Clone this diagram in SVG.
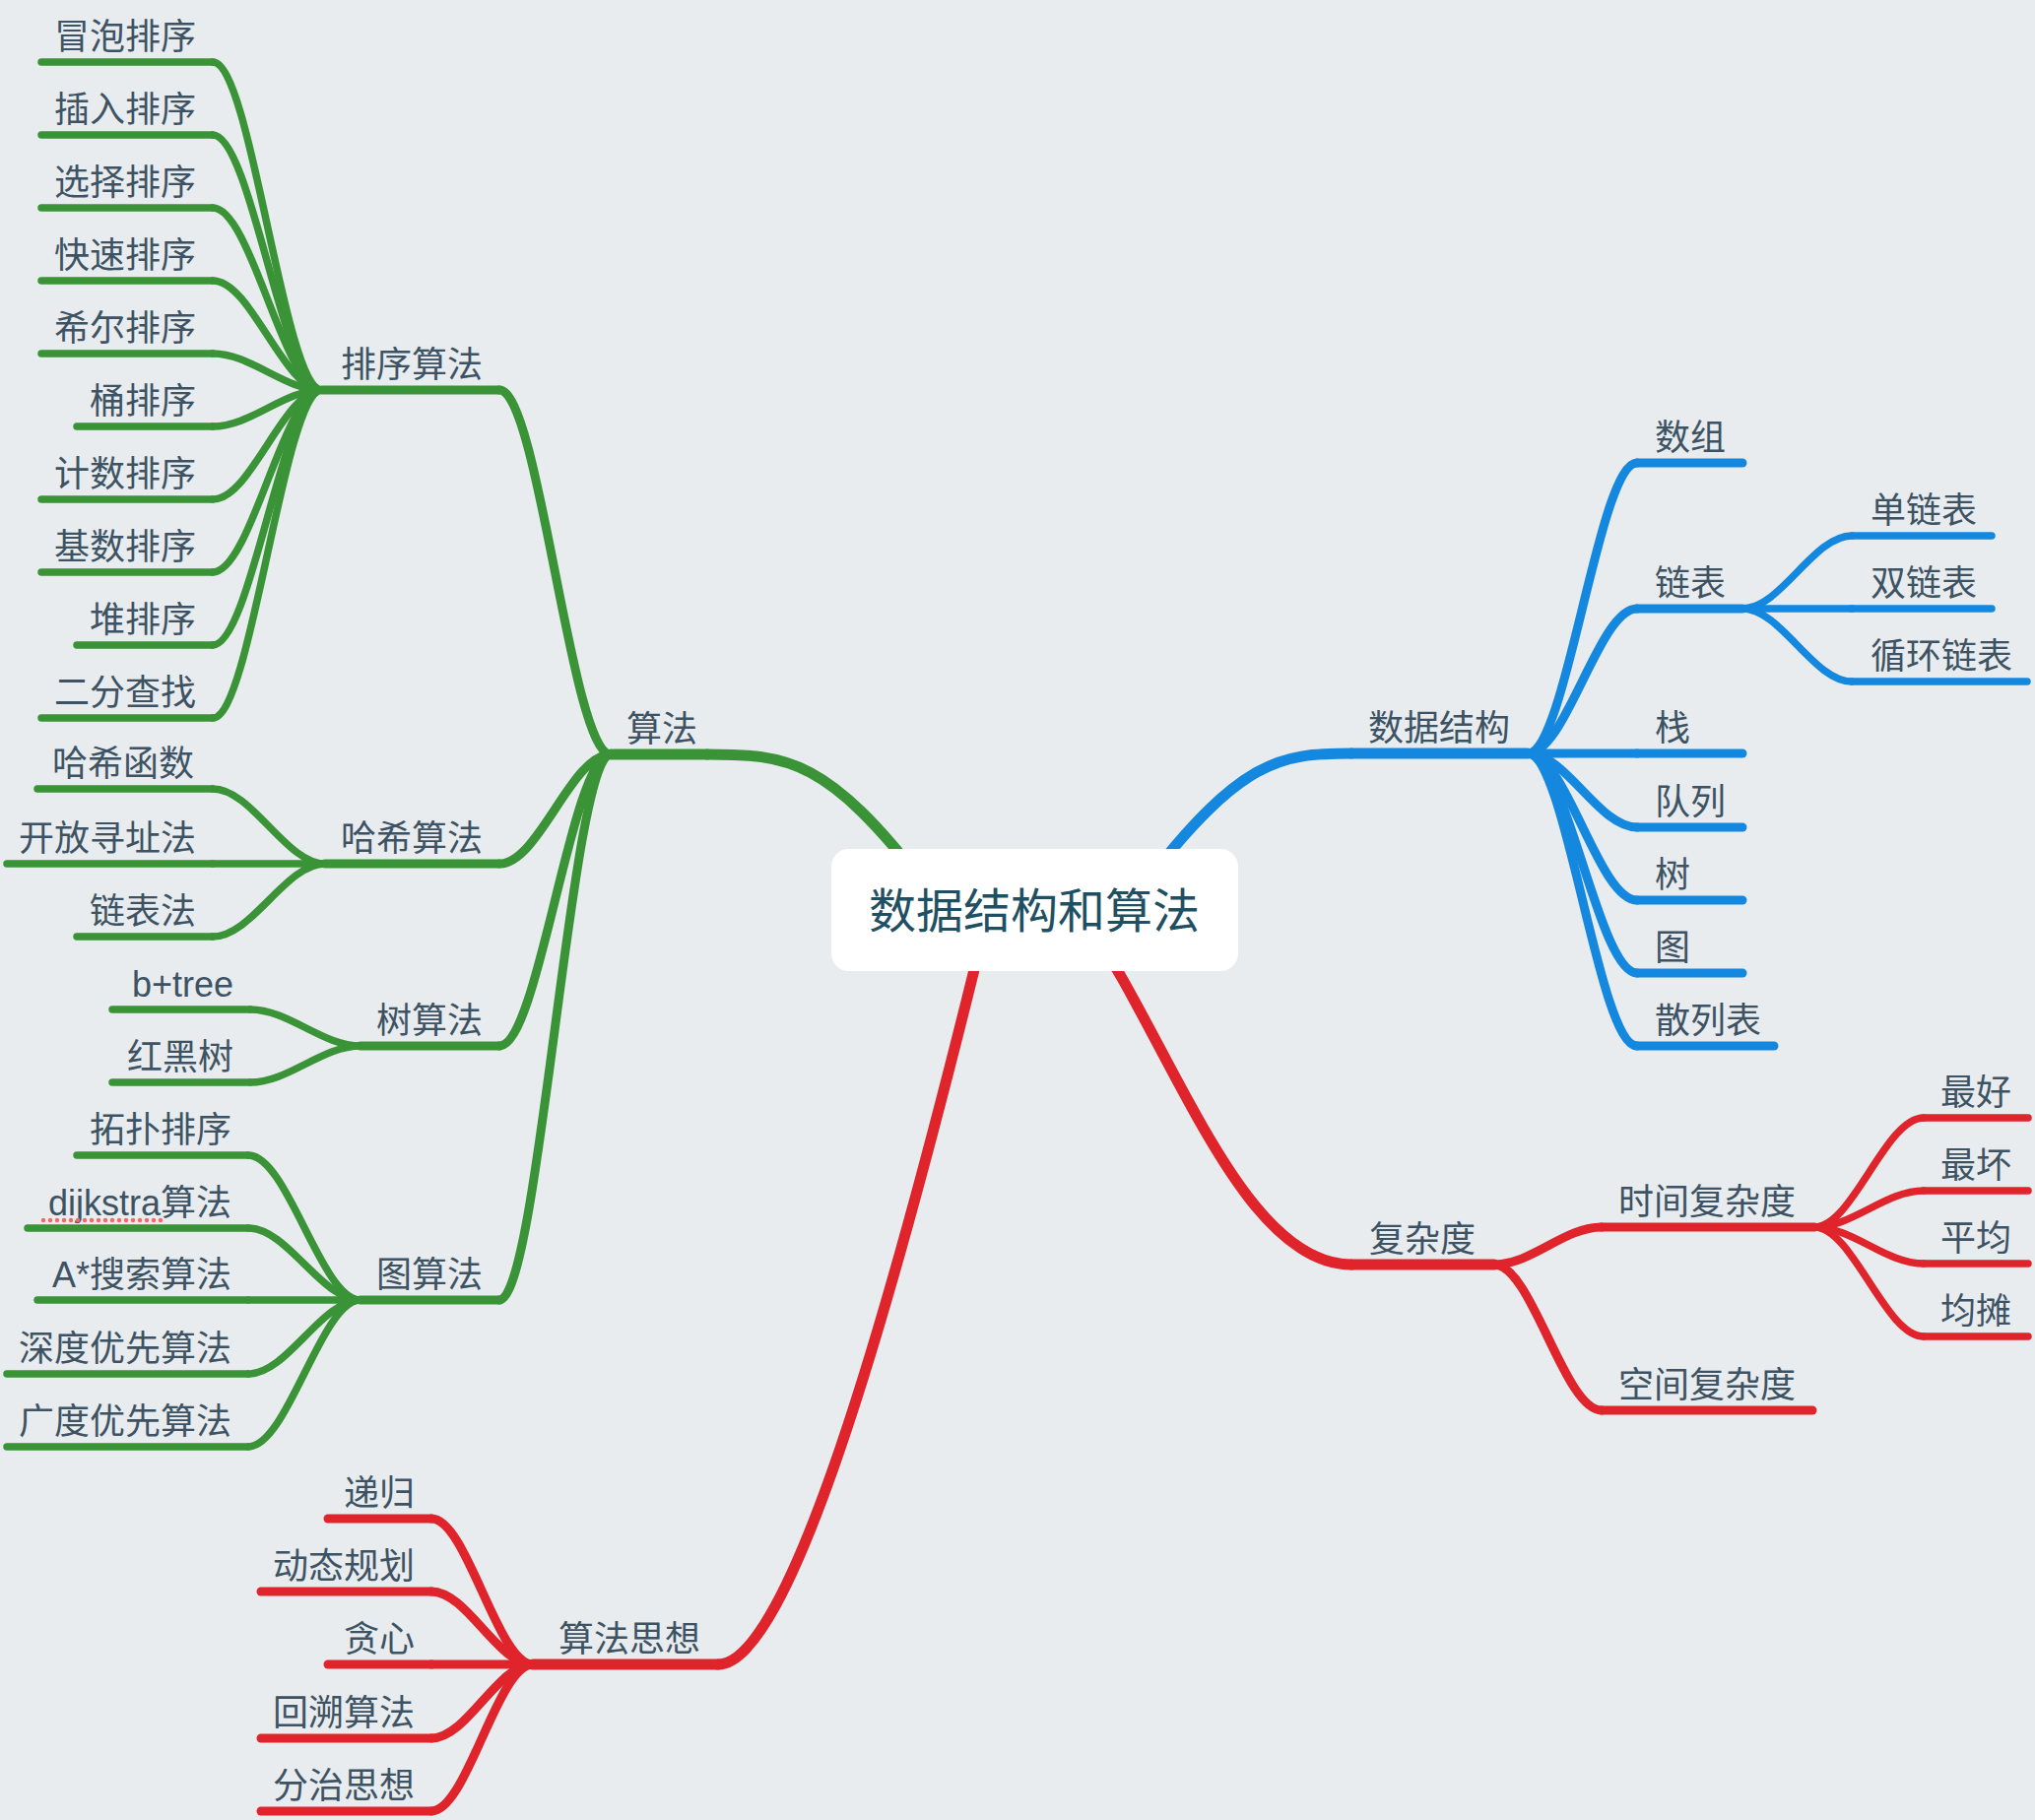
<svg xmlns="http://www.w3.org/2000/svg" width="2066" height="1848" viewBox="0 0 2066 1848">
<style>
.l{fill:none;stroke-linecap:round;stroke-linejoin:round}
.gr{stroke:#3a9437}.bl{stroke:#1487df}.rd{stroke:#e0242b}
.w1{stroke-width:11}.w2{stroke-width:9}.w3{stroke-width:7.5}
.t{font-family:"Liberation Sans","Noto Sans CJK SC",sans-serif;font-size:36px;fill:#3d5363}
.e{text-anchor:end}
.title{font-family:"Liberation Sans","Noto Sans CJK SC",sans-serif;font-size:48px;fill:#1f4f63;text-anchor:middle}
</style>
<rect x="0" y="0" width="2066" height="1848" fill="#e8ecef"/>
<g id="connectors">
<!-- level 1 -->
<path class="l gr w1" d="M718,766 C800,766 840,770 940,900"/>
<path class="l bl w1" d="M1160,900 C1260,770 1300,765 1372,765"/>
<path class="l rd w1" d="M729,1690 C800,1690 900,1350 1000,940"/>
<path class="l rd w1" d="M1100,930 C1190,1060 1260,1284 1372,1284"/>
<!-- green level 2 -->
<path class="l gr w2" d="M507,396 C547,396 580,766 620,766"/>
<path class="l gr w2" d="M507,877 C547,877 580,766 620,766"/>
<path class="l gr w2" d="M507,1062 C547,1062 580,766 620,766"/>
<path class="l gr w2" d="M507,1320 C547,1320 580,766 620,766"/>
<!-- sort leaves -->
<path class="l gr w3" d="M216,63 C255,63 288,396 327,396"/>
<path class="l gr w3" d="M216,137 C255,137 288,396 327,396"/>
<path class="l gr w3" d="M216,211 C255,211 288,396 327,396"/>
<path class="l gr w3" d="M216,285 C255,285 288,396 327,396"/>
<path class="l gr w3" d="M216,359 C255,359 288,396 327,396"/>
<path class="l gr w3" d="M216,433 C255,433 288,396 327,396"/>
<path class="l gr w3" d="M216,507 C255,507 288,396 327,396"/>
<path class="l gr w3" d="M216,581 C255,581 288,396 327,396"/>
<path class="l gr w3" d="M216,655 C255,655 288,396 327,396"/>
<path class="l gr w3" d="M216,729 C255,729 288,396 327,396"/>
<!-- hash leaves -->
<path class="l gr w3" d="M216,801 C256,801 290,877 330,877"/>
<path class="l gr w3" d="M216,877 H330"/>
<path class="l gr w3" d="M216,951 C256,951 290,877 330,877"/>
<!-- tree leaves -->
<path class="l gr w3" d="M254,1025 C293,1025 327,1062 366,1062"/>
<path class="l gr w3" d="M254,1099 C293,1099 327,1062 366,1062"/>
<!-- graph leaves -->
<path class="l gr w3" d="M252,1173 C292,1173 326,1320 366,1320"/>
<path class="l gr w3" d="M252,1247 C292,1247 326,1320 366,1320"/>
<path class="l gr w3" d="M252,1320 H366"/>
<path class="l gr w3" d="M252,1395 C292,1395 326,1320 366,1320"/>
<path class="l gr w3" d="M252,1469 C292,1469 326,1320 366,1320"/>
<!-- algorithm thinking -->
<path class="l rd w2" d="M438,1542 C474,1542 505,1690 541,1690"/>
<path class="l rd w2" d="M438,1616 C474,1616 505,1690 541,1690"/>
<path class="l rd w2" d="M438,1690 H541"/>
<path class="l rd w2" d="M438,1765 C474,1765 505,1690 541,1690"/>
<path class="l rd w2" d="M438,1839 C474,1839 505,1690 541,1690"/>
<!-- data structure children -->
<path class="l bl w2" d="M1551,765 C1590,765 1623,470 1662,470"/>
<path class="l bl w2" d="M1551,765 C1590,765 1623,618 1662,618"/>
<path class="l bl w2" d="M1551,765 H1662"/>
<path class="l bl w2" d="M1551,765 C1590,765 1623,840 1662,840"/>
<path class="l bl w2" d="M1551,765 C1590,765 1623,914 1662,914"/>
<path class="l bl w2" d="M1551,765 C1590,765 1623,988 1662,988"/>
<path class="l bl w2" d="M1551,765 C1590,765 1623,1062 1662,1062"/>
<!-- linked list children -->
<path class="l bl w3" d="M1769,618 C1808,618 1841,544 1880,544"/>
<path class="l bl w3" d="M1769,618 H1880"/>
<path class="l bl w3" d="M1769,618 C1808,618 1841,692 1880,692"/>
<!-- complexity children -->
<path class="l rd w2" d="M1517,1284 C1555,1284 1588,1246 1626,1246"/>
<path class="l rd w2" d="M1517,1284 C1555,1284 1588,1432 1626,1432"/>
<!-- time complexity children -->
<path class="l rd w3" d="M1842,1246 C1881,1246 1914,1135 1953,1135"/>
<path class="l rd w3" d="M1842,1246 C1881,1246 1914,1209 1953,1209"/>
<path class="l rd w3" d="M1842,1246 C1881,1246 1914,1283 1953,1283"/>
<path class="l rd w3" d="M1842,1246 C1881,1246 1914,1357 1953,1357"/>
</g>

<!-- green level 1 -->
<g id="n-algo"><path class="l gr w1" d="M620,766 H718"/><text class="t" x="636" y="753">算法</text></g>
<g id="n-sort"><path class="l gr w2" d="M327,396 H507"/><text class="t e" x="490" y="383">排序算法</text></g>
<g id="n-hash"><path class="l gr w2" d="M330,877 H507"/><text class="t e" x="490" y="864">哈希算法</text></g>
<g id="n-treealgo"><path class="l gr w2" d="M366,1062 H507"/><text class="t e" x="490" y="1049">树算法</text></g>
<g id="n-graphalgo"><path class="l gr w2" d="M366,1320 H507"/><text class="t e" x="490" y="1307">图算法</text></g>

<g id="n-bubble"><path class="l gr w3" d="M42,63 H216"/><text class="t e" x="199" y="50">冒泡排序</text></g>
<g id="n-insert"><path class="l gr w3" d="M42,137 H216"/><text class="t e" x="199" y="124">插入排序</text></g>
<g id="n-select"><path class="l gr w3" d="M42,211 H216"/><text class="t e" x="199" y="198">选择排序</text></g>
<g id="n-quick"><path class="l gr w3" d="M42,285 H216"/><text class="t e" x="199" y="272">快速排序</text></g>
<g id="n-shell"><path class="l gr w3" d="M42,359 H216"/><text class="t e" x="199" y="346">希尔排序</text></g>
<g id="n-bucket"><path class="l gr w3" d="M78,433 H216"/><text class="t e" x="199" y="420">桶排序</text></g>
<g id="n-count"><path class="l gr w3" d="M42,507 H216"/><text class="t e" x="199" y="494">计数排序</text></g>
<g id="n-radix"><path class="l gr w3" d="M42,581 H216"/><text class="t e" x="199" y="568">基数排序</text></g>
<g id="n-heap"><path class="l gr w3" d="M78,655 H216"/><text class="t e" x="199" y="642">堆排序</text></g>
<g id="n-binsearch"><path class="l gr w3" d="M42,729 H216"/><text class="t e" x="199" y="716">二分查找</text></g>

<g id="n-hashfunc"><path class="l gr w3" d="M38,801 H216"/><text class="t e" x="197" y="788">哈希函数</text></g>
<g id="n-openaddr"><path class="l gr w3" d="M7,877 H216"/><text class="t e" x="199" y="864">开放寻址法</text></g>
<g id="n-chaining"><path class="l gr w3" d="M78,951 H216"/><text class="t e" x="199" y="938">链表法</text></g>

<g id="n-bplus"><path class="l gr w3" d="M114,1025 H254"/><text class="t e" x="237" y="1012">b+tree</text></g>
<g id="n-rbtree"><path class="l gr w3" d="M114,1099 H254"/><text class="t e" x="237" y="1086">红黑树</text></g>

<g id="n-topo"><path class="l gr w3" d="M78,1173 H252"/><text class="t e" x="235" y="1160">拓扑排序</text></g>
<g id="n-dijkstra"><path class="l gr w3" d="M28,1247 H252"/><text class="t e" x="235" y="1234">dijkstra算法</text><path d="M44,1239 H168" fill="none" stroke="#f46a62" stroke-width="4.5" stroke-linecap="round" stroke-dasharray="0 7"/></g>
<g id="n-astar"><path class="l gr w3" d="M38,1320 H252"/><text class="t e" x="235" y="1307">A*搜索算法</text></g>
<g id="n-dfs"><path class="l gr w3" d="M7,1395 H252"/><text class="t e" x="235" y="1382">深度优先算法</text></g>
<g id="n-bfs"><path class="l gr w3" d="M7,1469 H252"/><text class="t e" x="235" y="1456">广度优先算法</text></g>

<!-- red left -->
<g id="n-thinking"><path class="l rd w1" d="M541,1690 H729"/><text class="t e" x="711" y="1677">算法思想</text></g>
<g id="n-recursion"><path class="l rd w2" d="M333,1542 H438"/><text class="t e" x="421" y="1529">递归</text></g>
<g id="n-dp"><path class="l rd w2" d="M265,1616 H438"/><text class="t e" x="421" y="1603">动态规划</text></g>
<g id="n-greedy"><path class="l rd w2" d="M333,1690 H438"/><text class="t e" x="421" y="1677">贪心</text></g>
<g id="n-backtrack"><path class="l rd w2" d="M265,1765 H438"/><text class="t e" x="421" y="1752">回溯算法</text></g>
<g id="n-divide"><path class="l rd w2" d="M265,1839 H438"/><text class="t e" x="421" y="1826">分治思想</text></g>

<!-- blue -->
<g id="n-ds"><path class="l bl w1" d="M1372,765 H1551"/><text class="t" x="1389" y="752">数据结构</text></g>
<g id="n-array"><path class="l bl w2" d="M1662,470 H1769"/><text class="t" x="1680" y="457">数组</text></g>
<g id="n-linkedlist"><path class="l bl w2" d="M1662,618 H1769"/><text class="t" x="1680" y="605">链表</text></g>
<g id="n-stack"><path class="l bl w2" d="M1662,765 H1769"/><text class="t" x="1680" y="752">栈</text></g>
<g id="n-queue"><path class="l bl w2" d="M1662,840 H1769"/><text class="t" x="1680" y="827">队列</text></g>
<g id="n-tree"><path class="l bl w2" d="M1662,914 H1769"/><text class="t" x="1680" y="901">树</text></g>
<g id="n-graph"><path class="l bl w2" d="M1662,988 H1769"/><text class="t" x="1680" y="975">图</text></g>
<g id="n-hashtable"><path class="l bl w2" d="M1662,1062 H1801"/><text class="t" x="1680" y="1049">散列表</text></g>
<g id="n-single"><path class="l bl w3" d="M1880,544 H2022"/><text class="t" x="1899" y="531">单链表</text></g>
<g id="n-double"><path class="l bl w3" d="M1880,618 H2022"/><text class="t" x="1899" y="605">双链表</text></g>
<g id="n-circular"><path class="l bl w3" d="M1880,692 H2058"/><text class="t" x="1899" y="679">循环链表</text></g>

<!-- red right -->
<g id="n-complexity"><path class="l rd w1" d="M1372,1284 H1517"/><text class="t" x="1390" y="1271">复杂度</text></g>
<g id="n-time"><path class="l rd w2" d="M1626,1246 H1842"/><text class="t" x="1643" y="1233">时间复杂度</text></g>
<g id="n-space"><path class="l rd w2" d="M1626,1432 H1840"/><text class="t" x="1643" y="1419">空间复杂度</text></g>
<g id="n-best"><path class="l rd w3" d="M1953,1135 H2059"/><text class="t" x="1970" y="1122">最好</text></g>
<g id="n-worst"><path class="l rd w3" d="M1953,1209 H2059"/><text class="t" x="1970" y="1196">最坏</text></g>
<g id="n-average"><path class="l rd w3" d="M1953,1283 H2059"/><text class="t" x="1970" y="1270">平均</text></g>
<g id="n-amortized"><path class="l rd w3" d="M1953,1357 H2059"/><text class="t" x="1970" y="1344">均摊</text></g>

<g id="n-center"><rect x="844" y="862" width="413" height="124" rx="18" ry="18" fill="#ffffff"/><text class="title" x="1050" y="942">数据结构和算法</text></g>
</svg>
